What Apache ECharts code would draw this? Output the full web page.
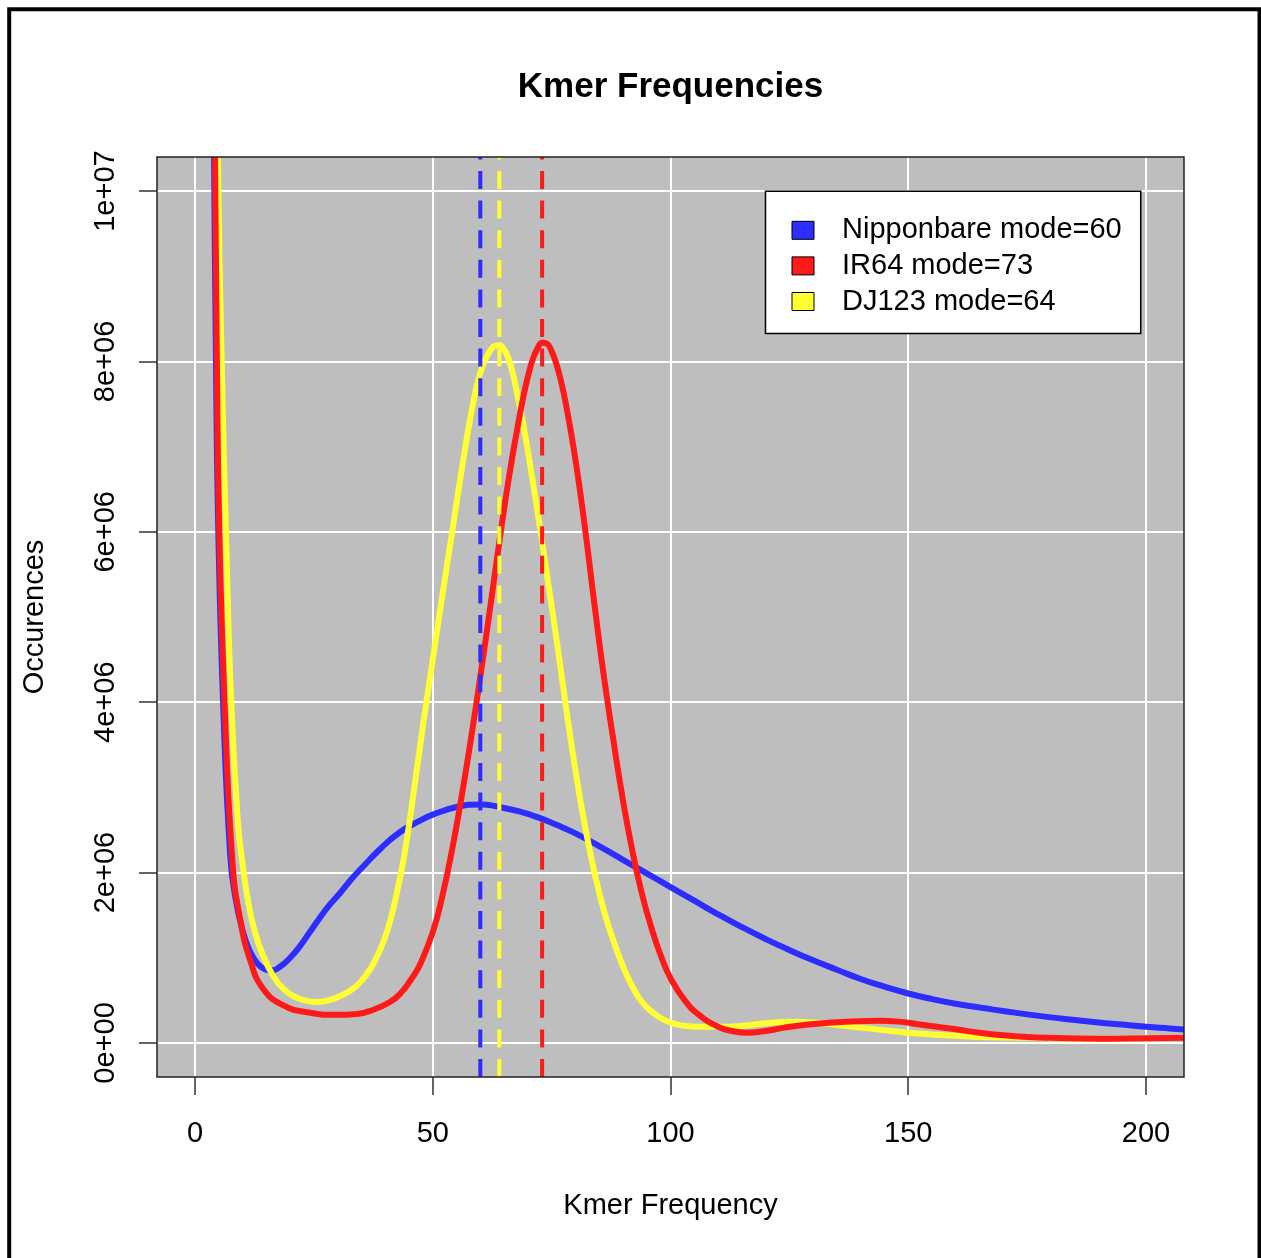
<!DOCTYPE html>
<html>
<head>
<meta charset="utf-8">
<script src="https://cdn.jsdelivr.net/npm/echarts@6/dist/echarts.min.js"></script>
<style>
html, body { margin: 0; padding: 0; background: #ffffff; }
#chart { width: 1261px; height: 1258px; }
</style>
</head>
<body>
<div id="chart"></div>
<script>
// ---------------- data ----------------
const varieties = ['Nipponbare', 'IR64', 'DJ123'];
const modes = [60, 73, 64];
const colors = ['#2D2DFF', '#FF1A1A', '#FFFF33'];

const xTicks = [0, 50, 100, 150, 200];
const yTicks = [0, 2e6, 4e6, 6e6, 8e6, 1e7];
const yTickLabels = ['0e+00', '2e+06', '4e+06', '6e+06', '8e+06', '1e+07'];

// [Kmer frequency, occurences]
const nipponbare = [
  [3, 1.6e7], [4.0, 1.04e7], [4.4, 8.0e6], [4.9, 6.0e6], [5.9, 4.0e6], [7.4, 2.2e6],
  [8.5, 1.7e6], [10, 1.32e6], [11.5, 1.08e6], [13, 0.94e6], [14.5, 0.87e6], [16, 0.85e6],
  [18, 0.9e6], [20, 1.0e6], [22, 1.13e6], [24, 1.29e6], [26, 1.45e6], [28, 1.6e6],
  [30.5, 1.76e6], [33, 1.93e6], [35, 2.05e6], [39, 2.28e6], [43, 2.47e6], [47, 2.6e6],
  [50, 2.68e6], [55, 2.77e6], [60, 2.8e6],
  [64, 2.77e6], [68, 2.72e6], [72, 2.65e6], [76, 2.56e6], [80, 2.46e6], [85, 2.31e6],
  [90, 2.15e6], [95, 1.99e6], [100, 1.83e6], [105, 1.67e6], [110, 1.51e6], [115, 1.36e6],
  [120, 1.22e6], [125, 1.09e6], [130, 0.97e6], [135, 0.86e6], [140, 0.75e6], [145, 0.66e6],
  [150, 0.58e6], [155, 0.515e6], [160, 0.46e6], [165, 0.415e6], [170, 0.375e6], [175, 0.335e6],
  [180, 0.3e6], [185, 0.27e6], [190, 0.24e6], [195, 0.215e6], [200, 0.19e6], [205, 0.17e6],
  [210, 0.15e6]
];

const ir64 = [
  [3, 1.6e7], [4.2, 1.04e7], [4.6, 8.0e6], [5.1, 6.0e6], [6.2, 4.0e6], [7.9, 2.1e6],
  [9.5, 1.45e6], [11.6, 0.97e6], [14.4, 0.63e6], [18.6, 0.44e6], [23.5, 0.36e6], [29.8, 0.33e6],
  [34, 0.34e6], [37.5, 0.39e6], [41, 0.48e6], [43.2, 0.58e6], [45.5, 0.75e6], [47.4, 0.93e6],
  [50, 1.3e6], [52, 1.72e6], [54, 2.25e6], [56, 2.87e6], [58, 3.56e6], [60, 4.3e6],
  [62, 5.08e6], [64, 5.88e6], [66, 6.63e6], [68, 7.28e6], [69, 7.57e6], [70, 7.82e6],
  [71, 8.02e6], [72, 8.15e6], [73, 8.22e6], [74, 8.21e6], [75, 8.12e6], [76, 7.97e6],
  [77, 7.76e6], [78, 7.5e6], [80, 6.85e6], [82, 6.05e6],
  [84, 5.15e6], [86, 4.3e6], [88, 3.55e6], [90, 2.85e6], [92, 2.25e6], [94, 1.75e6],
  [96, 1.35e6], [98, 1.02e6], [100, 0.76e6], [103, 0.5e6], [106, 0.33e6], [110, 0.19e6],
  [113, 0.14e6], [116, 0.12e6], [120, 0.14e6], [124, 0.18e6], [128, 0.21e6], [132, 0.23e6],
  [136, 0.245e6], [140, 0.255e6], [144, 0.26e6], [148, 0.25e6], [152, 0.22e6], [156, 0.19e6],
  [160, 0.16e6], [165, 0.12e6], [170, 0.09e6], [175, 0.07e6], [180, 0.06e6], [190, 0.05e6],
  [200, 0.055e6], [210, 0.06e6]
];

const dj123 = [
  [3, 1.8e7], [4.8, 1.04e7], [5.6, 8.0e6], [6.5, 6.0e6], [7.6, 4.0e6], [9.0, 2.6e6],
  [10.0, 2.1e6], [11.2, 1.65e6], [12.6, 1.3e6], [14.5, 1.0e6], [16.5, 0.78e6], [18.5, 0.64e6],
  [20.7, 0.55e6], [23, 0.5e6], [25.6, 0.48e6], [28, 0.5e6], [30.5, 0.55e6], [32.5, 0.61e6],
  [34.7, 0.71e6], [37, 0.88e6], [38.9, 1.09e6], [40.5, 1.33e6], [42, 1.65e6], [44, 2.2e6],
  [46, 2.95e6], [48, 3.75e6], [50, 4.5e6], [52, 5.25e6], [54, 5.97e6], [56, 6.7e6],
  [58, 7.37e6], [59, 7.65e6], [60, 7.87e6], [61, 8.02e6], [62, 8.12e6], [63, 8.18e6],
  [64, 8.19e6], [65, 8.14e6], [66, 8.02e6], [67, 7.82e6], [68, 7.55e6], [69, 7.27e6],
  [70, 6.95e6], [72, 6.25e6], [74, 5.5e6], [76, 4.75e6], [78, 3.95e6], [80, 3.2e6],
  [82, 2.55e6], [84, 2.0e6], [86, 1.55e6], [88, 1.2e6], [90, 0.9e6], [92, 0.66e6],
  [94, 0.48e6], [96, 0.37e6], [98, 0.29e6], [100, 0.24e6], [103, 0.2e6], [106, 0.19e6],
  [110, 0.19e6], [115, 0.2e6], [120, 0.23e6], [125, 0.25e6], [130, 0.24e6], [135, 0.21e6],
  [140, 0.18e6], [145, 0.15e6], [150, 0.12e6], [155, 0.1e6], [160, 0.085e6], [165, 0.07e6],
  [170, 0.065e6], [180, 0.055e6], [190, 0.05e6], [200, 0.055e6], [210, 0.06e6]
];

// ---------------- layout ----------------
const FONT = '"Liberation Sans", Arial, Helvetica, sans-serif';
const plot = { left: 157, top: 157, width: 1027, height: 920 };
const xRange = [-8, 208];
const yRange = [-4e5, 1.04e7];
const xStep = plot.width / (xRange[1] - xRange[0]);
const yStep = plot.height / (yRange[1] - yRange[0]);
const xFirst = xTicks[0], xLast = xTicks[xTicks.length - 1];
const yFirst = yTicks[0], yLast = yTicks[yTicks.length - 1];

const gridX = {
  left: plot.left + (xFirst - xRange[0]) * xStep,
  top: plot.top,
  width: (xLast - xFirst) * xStep,
  height: plot.height
};
const gridY = {
  left: plot.left,
  top: plot.top + (yRange[1] - yLast) * yStep,
  width: plot.width,
  height: (yLast - yFirst) * yStep
};

const names = varieties.map((v, i) => v + ' mode=' + modes[i]);
const curves = [nipponbare, ir64, dj123];
const curveZ = [2, 4, 3];

const curveSeries = varieties.map((v, i) => ({
  name: names[i],
  type: 'line',
  xAxisIndex: 0,
  yAxisIndex: 0,
  data: curves[i],
  symbol: 'none',
  showSymbol: false,
  smooth: 0.5,
  clip: true,
  silent: true,
  lineStyle: { color: colors[i], width: 6, cap: 'round', join: 'round' },
  itemStyle: { color: colors[i] },
  z: curveZ[i]
}));

const modeSeries = varieties.map((v, i) => ({
  name: v + ' mode line',
  type: 'line',
  xAxisIndex: 0,
  yAxisIndex: 0,
  data: [[modes[i], yRange[0]], [modes[i], yRange[1]]],
  symbol: 'none',
  showSymbol: false,
  silent: true,
  clip: true,
  lineStyle: { color: colors[i], width: 4, type: [18, 11.6] },
  itemStyle: { color: colors[i] },
  z: 5
}));

const tickStyle = { show: true, length: 18, lineStyle: { color: '#333333', width: 1.5 } };
const labelText = { fontSize: 29, color: '#000000', fontFamily: FONT };

const option = {
  animation: false,
  backgroundColor: '#ffffff',
  textStyle: { fontFamily: FONT },
  grid: [
    Object.assign({ show: true, backgroundColor: '#BEBEBE', borderWidth: 0, outerBoundsMode: 'none', containLabel: false }, plot),
    Object.assign({ show: false, outerBoundsMode: 'none', containLabel: false }, gridX),
    Object.assign({ show: false, outerBoundsMode: 'none', containLabel: false }, gridY)
  ],
  xAxis: [
    { gridIndex: 0, type: 'value', min: xRange[0], max: xRange[1], show: false },
    {
      gridIndex: 1, type: 'value', position: 'bottom',
      min: xFirst, max: xLast, interval: xTicks[1] - xTicks[0],
      axisLine: { show: false },
      axisTick: tickStyle,
      axisLabel: Object.assign({ margin: 57, verticalAlign: 'middle', align: 'center' }, labelText),
      splitLine: { show: true, lineStyle: { color: '#ffffff', width: 2 } },
      name: 'Kmer Frequency', nameLocation: 'middle', nameGap: 129,
      nameTextStyle: Object.assign({ verticalAlign: 'middle', align: 'center' }, labelText)
    },
    { gridIndex: 2, type: 'value', min: 0, max: 1, show: false }
  ],
  yAxis: [
    { gridIndex: 0, type: 'value', min: yRange[0], max: yRange[1], show: false },
    { gridIndex: 1, type: 'value', min: 0, max: 1, show: false },
    {
      gridIndex: 2, type: 'value', position: 'left',
      min: yFirst, max: yLast, interval: yTicks[1] - yTicks[0],
      axisLine: { show: false },
      axisTick: tickStyle,
      axisLabel: Object.assign({
        margin: 51, rotate: 90, verticalAlign: 'middle', align: 'center',
        formatter: function (v) {
          const k = yTicks.indexOf(v);
          return k >= 0 ? yTickLabels[k] : '';
        }
      }, labelText),
      splitLine: { show: true, lineStyle: { color: '#ffffff', width: 2 } },
      name: 'Occurences', nameLocation: 'middle', nameGap: 122,
      nameTextStyle: Object.assign({ verticalAlign: 'middle', align: 'center' }, labelText)
    }
  ],
  legend: {
    data: names,
    orient: 'vertical',
    left: 765.5,
    top: 191.3,
    backgroundColor: '#ffffff',
    borderColor: '#000000',
    borderWidth: 1.5,
    borderRadius: 0,
    padding: [24, 19, 17, 26],
    itemWidth: 22,
    itemHeight: 18,
    itemGap: 5.6,
    icon: 'rect',
    itemStyle: { borderColor: '#000000', borderWidth: 1 },
    textStyle: { fontSize: 29, color: '#000000', fontFamily: FONT, lineHeight: 30, padding: [0, 0, 0, 23] },
    selectedMode: false,
    z: 10
  },
  graphic: [
    { type: 'rect', z: 8, silent: true,
      shape: { x: plot.left - 8, y: plot.top - 10, width: plot.width + 18, height: 10 },
      style: { fill: '#ffffff' } },
    { type: 'rect', z: 8, silent: true,
      shape: { x: plot.left + plot.width, y: plot.top - 10, width: 10, height: plot.height + 10 },
      style: { fill: '#ffffff' } },
    { type: 'rect', z: 9, silent: true,
      shape: { x: plot.left, y: plot.top, width: plot.width, height: plot.height },
      style: { fill: 'none', stroke: '#222222', lineWidth: 1.5 } },
    { type: 'rect', z: 9, silent: true,
      shape: { x: 9.2, y: 9.2, width: 1250.3, height: 1300 },
      style: { fill: 'none', stroke: '#000000', lineWidth: 4 } },
    { type: 'text', z: 9, silent: true, x: plot.left + plot.width / 2, y: 87,
      style: { text: 'Kmer Frequencies', align: 'center', verticalAlign: 'middle',
               font: 'bold 35px ' + FONT, fill: '#000000' } }
  ],
  series: curveSeries.concat(modeSeries)
};

const chart = echarts.init(document.getElementById('chart'), null, { renderer: 'canvas', width: 1261, height: 1258 });
chart.setOption(option);
</script>
</body>
</html>
